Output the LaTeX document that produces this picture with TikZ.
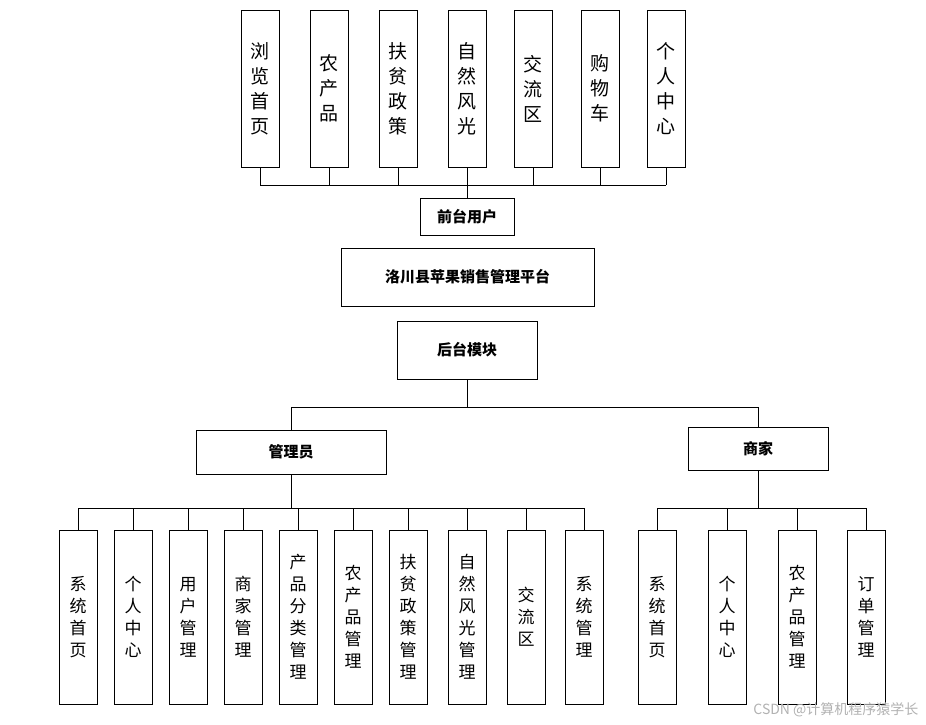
\documentclass[tikz,border=0pt]{standalone}
\usepackage{fontspec}
\setmainfont{Noto Sans CJK SC}
\begin{document}
\begin{tikzpicture}[x=1pt,y=-1pt,
  box/.style={draw,thick,fill=white,inner sep=0pt,align=center},
  tb/.style={box,minimum width=38pt,minimum height=157pt,font=\fontsize{19}{25}\selectfont},
  bb/.style={box,minimum width=38pt,minimum height=174pt,font=\fontsize{17}{22}\selectfont},
  hb/.style={box,font=\bfseries\fontsize{15}{18}\selectfont},
  ln/.style={thick}]
\fill[white] (0,0) rectangle (926,725);
\foreach \x/\t/\n in {260/浏\\览\\首\\页/t1,329/农\\产\\品/t2,398/扶\\贫\\政\\策/t3,467/自\\然\\风\\光/t4,533/交\\流\\区/t5,600/购\\物\\车/t6,666/个\\人\\中\\心/t7}{
  \node[tb] (\n) at (\x,88.5) {\t};
  \draw[ln] (\n.south) -- (\x,185);
}
\node[hb,minimum width=94pt,minimum height=37pt] (qt) at (467,216.5) {前台用户};
\draw[ln] (t1.south |- 0,185) -- (t7.south |- 0,185);
\draw[ln] (467,185) -- (qt.north);
\node[hb,minimum width=253pt,minimum height=58pt] (pt) at (467.5,277) {洛川县苹果销售管理平台};
\node[hb,minimum width=140pt,minimum height=58pt] (ht) at (467,350) {后台模块};
\node[hb,minimum width=190pt,minimum height=44pt] (gl) at (291,452) {管理员};
\node[hb,minimum width=140pt,minimum height=43pt] (sj) at (758,448.5) {商家};
\coordinate (b1) at (291,407); \coordinate (b2) at (758,407);
\draw[ln] (ht.south) -- (467,407);
\draw[ln] (b1) -- (b2);
\draw[ln] (b1) -- (gl.north); \draw[ln] (b2) -- (sj.north);
\foreach \x/\t/\n in {78/系\\统\\首\\页/m1,133/个\\人\\中\\心/m2,188/用\\户\\管\\理/m3,243/商\\家\\管\\理/m4,298/产\\品\\分\\类\\管\\理/m5,353/农\\产\\品\\管\\理/m6,408/扶\\贫\\政\\策\\管\\理/m7,467/自\\然\\风\\光\\管\\理/m8,526/交\\流\\区/m9,584/系\\统\\管\\理/m10}{
  \node[bb] (\n) at (\x,617) {\t};
  \draw[ln] (\n.north) -- (\x,508);
}
\draw[ln] (78,508) -- (584,508);
\draw[ln] (gl.south) -- (291,508);
\foreach \x/\t/\n in {657/系\\统\\首\\页/s1,727/个\\人\\中\\心/s2,797/农\\产\\品\\管\\理/s3,866/订\\单\\管\\理/s4}{
  \node[bb] (\n) at (\x,617) {\t};
  \draw[ln] (\n.north) -- (\x,508);
}
\draw[ln] (657,508) -- (866,508);
\draw[ln] (sj.south) -- (758,508);
\node[text=gray!60,font=\fontsize{14}{16}\selectfont,anchor=east] (wm) at (922,710) {CSDN @计算机程序猿学长};
\end{tikzpicture}
\end{document}
